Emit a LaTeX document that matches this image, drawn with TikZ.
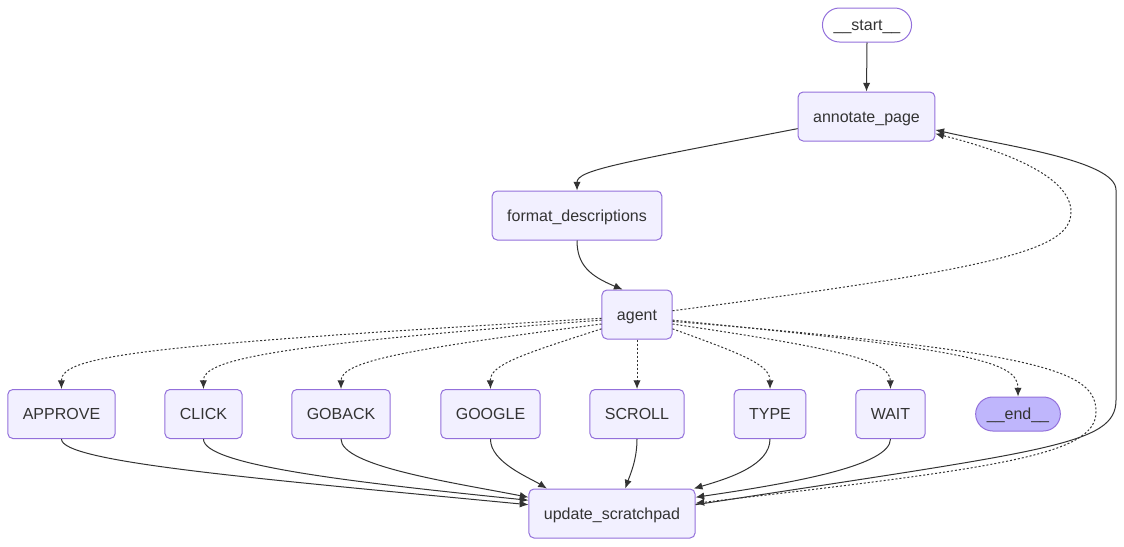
\documentclass[tikz,border=0pt]{standalone}
\usepackage{fontspec}
\setmainfont{Liberation Sans}
\usetikzlibrary{arrows.meta}
\definecolor{nodefill}{HTML}{F2F0FF}
\definecolor{nodeline}{HTML}{9370DB}
\definecolor{endfill}{HTML}{BFB6FC}
\definecolor{edgecol}{HTML}{333333}
\tikzstyle{line} = [draw=edgecol, line width=0.75pt, -{Latex[length=6.5pt, width=5.5pt]}]
\tikzstyle{dotline} = [line, dash pattern=on 1.5pt off 1.5pt]
\tikzstyle{box} = [rectangle, draw=nodeline, fill=nodefill, line width=0.75pt, rounded corners=3.75pt, minimum height=36.75pt, inner xsep=11.25pt, text height=8.5pt, text depth=0pt, text=edgecol, font=\fontsize{12}{14}\selectfont]
\tikzstyle{terminal} = [box, rounded corners=12.75pt, minimum height=25.5pt, inner xsep=8.4pt]

\begin{document}
\begin{tikzpicture}[x=0.75pt, y=-0.75pt]
	\useasboundingbox (0,0) rectangle (1124,546);
	
	\node [terminal, fill=white] (start) at (867,25) {\_\_start\_\_};
	\node [box] (annotate) at (866.5,116.5) {annotate\_page};
	\node [box] (format) at (577,215.5) {format\_descriptions};
	\node [box] (agent) at (637,314.5) {agent};
	\node [box] (approve) at (61.5,414) {APPROVE};
	\node [box] (click) at (203.5,414) {CLICK};
	\node [box] (goback) at (341,414) {GOBACK};
	\node [box] (google) at (490.5,414) {GOOGLE};
	\node [box] (scroll) at (637,414) {SCROLL};
	\node [box] (type) at (770,414) {TYPE};
	\node [box] (wait) at (890.5,414) {WAIT};
	\node [terminal, fill=endfill] (end) at (1018,414) {\_\_end\_\_};
	\node [box] (update) at (612,513.5) {update\_scratchpad};
	
	% main chain
	\path [line] (start.south) -- (annotate.north);
	\path [line] (annotate.190) .. controls (620,163) and (577,170) .. (format.north);
	\path [line] (format.south) .. controls (577,265) and (590,276) .. (agent.120);
	
	% agent back to annotate_page
	\path [dotline] (agent.6) .. controls (1000,268) and (1071,250) .. (1071,212)
		.. controls (1071,175) and (1000,150) .. (annotate.346);
	
	% agent to the tools
	\path [dotline] (agent.186) .. controls (150,345) and (61,355) .. (approve.north);
	\path [dotline] (agent.189) .. controls (270,345) and (203,360) .. (click.north);
	\path [dotline] (agent.195) .. controls (400,350) and (341,362) .. (goback.north);
	\path [dotline] (agent.202) .. controls (520,355) and (490,365) .. (google.north);
	\path [dotline] (agent.south) -- (scroll.north);
	\path [dotline] (agent.338) .. controls (745,355) and (770,365) .. (type.north);
	\path [dotline] (agent.345) .. controls (850,350) and (890,362) .. (wait.north);
	\path [dotline] (agent.351) .. controls (975,350) and (1018,362) .. (end.north);
	\path [dotline] (agent.349) .. controls (1050,352) and (1096,372) .. (1096,412)
		.. controls (1096,455) and (1000,468) .. (update.7);
	
	% tools to update_scratchpad
	\path [line] (approve.south) .. controls (61,462) and (250,478) .. (update.174);
	\path [line] (click.south) .. controls (203,465) and (350,482) .. (update.171);
	\path [line] (goback.south) .. controls (341,466) and (450,482) .. (update.169);
	\path [line] (google.south) .. controls (490,462) and (530,478) .. (update.159);
	\path [line] (scroll.south) .. controls (637,460) and (630,475) .. (update.62);
	\path [line] (type.south) .. controls (770,465) and (730,478) .. (update.17);
	\path [line] (wait.south) .. controls (890,465) and (800,482) .. (update.11);
	
	% update_scratchpad back to annotate_page
	\path [line] (update.6) .. controls (1050,450) and (1116,445) .. (1116,400)
		-- (1116,190) .. controls (1116,160) and (1000,145) .. (annotate.349);
\end{tikzpicture}
\end{document}
